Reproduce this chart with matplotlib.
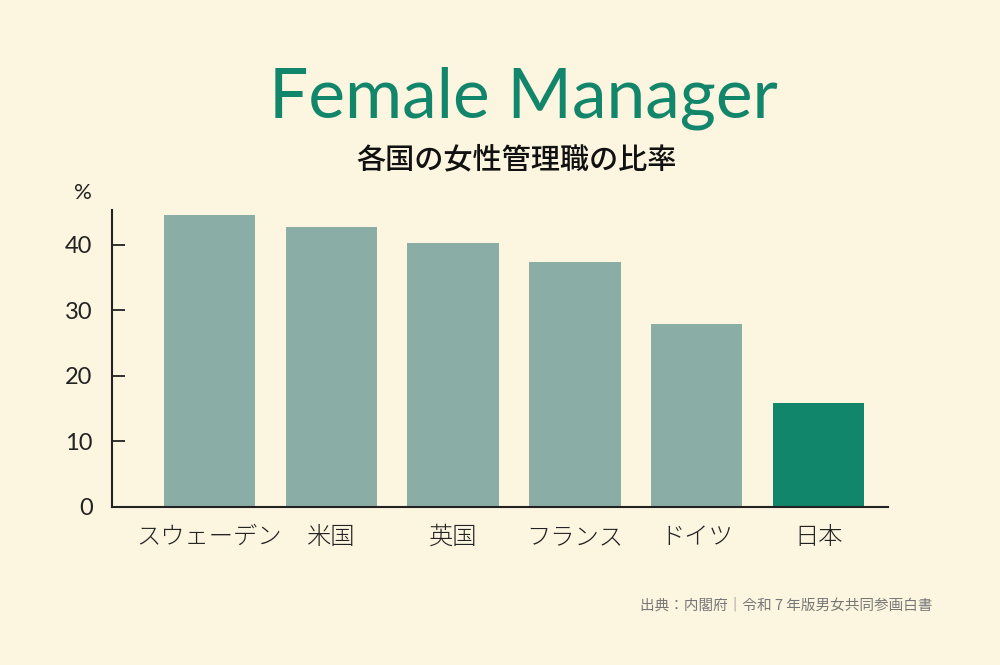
import matplotlib
matplotlib.use("Agg")
import matplotlib.pyplot as plt

# data
countries = ["スウェーデン", "米国", "英国", "フランス", "ドイツ", "日本"]
ratios = [44.6, 42.7, 40.2, 37.3, 27.9, 15.9]
highlight = "日本"
yticks = [0, 10, 20, 30, 40]

BG = "#FCF5E0"
GREEN = "#12866A"
GREY_GREEN = "#8AADA5"
JP_FONT = ["Noto Sans CJK JP", "DejaVu Sans"]

fig = plt.figure(figsize=(10, 6.65), dpi=100, facecolor=BG)
ax = fig.add_axes([0.112, 0.2376, 0.776, 0.4466], facecolor=BG)

colors = [GREEN if c == highlight else GREY_GREEN for c in countries]
ax.bar(range(len(countries)), ratios, width=0.75, color=colors, zorder=2)

ax.set_xlim(-0.8, 5.57)
ax.set_ylim(0, 45.3)
ax.set_yticks(yticks)
ax.set_xticks(range(len(countries)))
ax.set_xticklabels(countries, family=JP_FONT, fontsize=17.5, color="#222222",
                   weight="light")

for s in ["top", "right"]:
    ax.spines[s].set_visible(False)
for s in ["left", "bottom"]:
    ax.spines[s].set_linewidth(1.5)
    ax.spines[s].set_color("#222222")

ax.tick_params(axis="y", direction="in", length=9.5, width=1.3, pad=14,
               labelsize=17, labelcolor="#222222", color="#222222")
ax.tick_params(axis="x", length=0, pad=13)
for lab in ax.get_yticklabels():
    lab.set_family(["Lato", "DejaVu Sans"])

fig.text(0.083, 0.71, "%", fontsize=16, color="#222222", ha="center", va="center",
         family=["Lato", "DejaVu Sans"])

fig.text(0.523, 0.852, "Female Manager", fontsize=50, color=GREEN, ha="center",
         va="center", family=["Lato", "DejaVu Sans"], weight="normal")
fig.text(0.516, 0.760, "各国の女性管理職の比率", fontsize=21, color="#111111",
         ha="center", va="center", family=JP_FONT, weight="medium")

fig.text(0.933, 0.09, "出典：内閣府｜令和 7 年版男女共同参画白書", fontsize=10.5,
         color="#777777", ha="right", va="center", family=JP_FONT)

fig.savefig("out.png", dpi=100, facecolor=BG)
